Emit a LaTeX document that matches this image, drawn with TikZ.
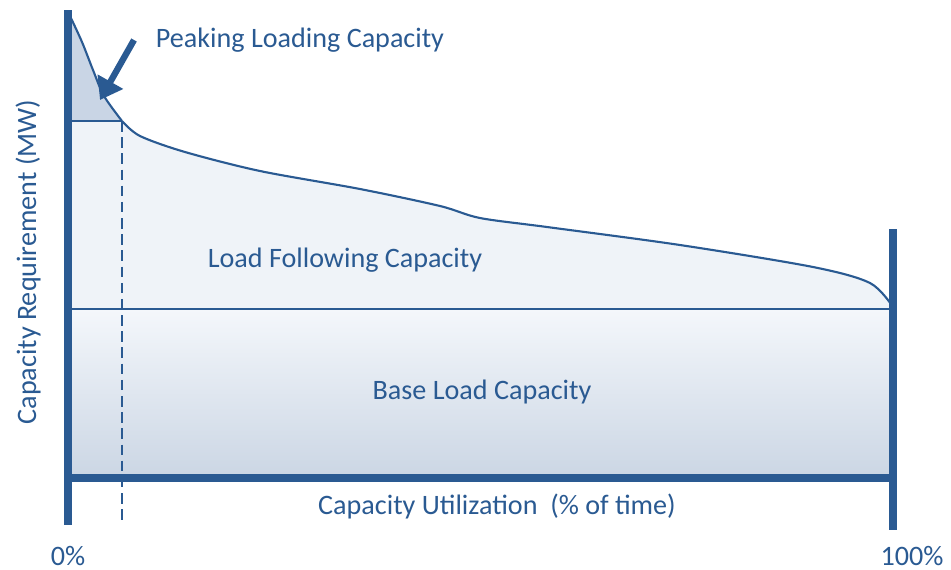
\documentclass[tikz,border=0pt]{standalone}
\usepackage{fontspec}
\setmainfont{Carlito}
\usetikzlibrary{arrows.meta}
\definecolor{axisblue}{HTML}{2A5A92}
\definecolor{peakfill}{HTML}{C9D5E5}
\definecolor{followfill}{HTML}{EFF3F8}
\definecolor{basetop}{HTML}{F4F7FB}
\definecolor{basebot}{HTML}{CBD6E4}
\tikzstyle{axisline}=[draw,axisblue,line width=2.3pt]
\tikzstyle{edgeline}=[draw,axisblue,line width=0.6pt]
\tikzstyle{marker}=[draw,axisblue,line width=0.6pt,dash pattern=on 3pt off 1.6pt]
\tikzstyle{label}=[text=axisblue,font=\fontsize{8}{9}\selectfont,inner sep=1]
\tikzstyle{pointer}=[draw,axisblue,line width=1.8pt,-{Triangle[length=6pt,width=8pt]}]

\begin{document}
\begin{tikzpicture}[x=0.01cm,y=-0.01cm]
\useasboundingbox (0,0) rectangle (951,569);
	% corner points
	\coordinate (top) at (68,10);
	\coordinate (o) at (68,525);
	\coordinate (peak) at (70,16);
	\coordinate (knee) at (122,121);
	\coordinate (kneel) at (68,121);
	\coordinate (basel) at (68,309);
	\coordinate (baser) at (893,309);
	\coordinate (botl) at (68,478);
	\coordinate (botr) at (893,478);
	\coordinate (rtop) at (893,229);
	\coordinate (rbot) at (893,530);
	\coordinate (dashb) at (122,525);

	% fills
	\fill[peakfill] (peak) plot[smooth] coordinates {(70,16) (82,42) (93,70) (104,96) (122,121)} -- (kneel) -- cycle;
	\fill[followfill] plot[smooth] coordinates {(122,121) (140,136) (185,152) (260,171) (360,189) (440,206) (480,218) (547,227) (680,245) (813,267) (870,283) (893,307)} -- (baser) -- (basel) -- (kneel) -- cycle;
	\shade[top color=basetop,bottom color=basebot] (basel) rectangle (botr);

	% curve
	\draw[edgeline] plot[smooth] coordinates {(70,16) (82,42) (93,70) (104,96) (122,121)};
	\draw[edgeline] plot[smooth] coordinates {(122,121) (140,136) (185,152) (260,171) (360,189) (440,206) (480,218) (547,227) (680,245) (813,267) (870,283) (893,307)};

	\path[edgeline] (kneel) -- (knee);
	\path[edgeline] (basel) -- (baser);
	\path[marker] (knee) -- (dashb);

	% axes
	\path[axisline] (top) -- (o);
	\path[axisline] (botl) -- (botr);
	\path[axisline] (rtop) -- (rbot);

	% labels
	\node[label] (pk) at (300,40) {Peaking Loading Capacity};
	\node[label] (lf) at (345,260) {Load Following Capacity};
	\node[label] (bl) at (482,392) {Base Load Capacity};
	\node[label] (cu) at (497,506) {Capacity Utilization~ (\% of time)};
	\node[label] (zero) at (68,556) {0\%};
	\node[label] (full) at (912,556) {100\%};
	\node[label,rotate=90] (cr) at (28,262) {Capacity Requirement (MW)};

	\coordinate (tail) at (134,40);
	\coordinate (head) at (100,100);
	\path[pointer] (tail) -- (head);
\end{tikzpicture}
\end{document}
